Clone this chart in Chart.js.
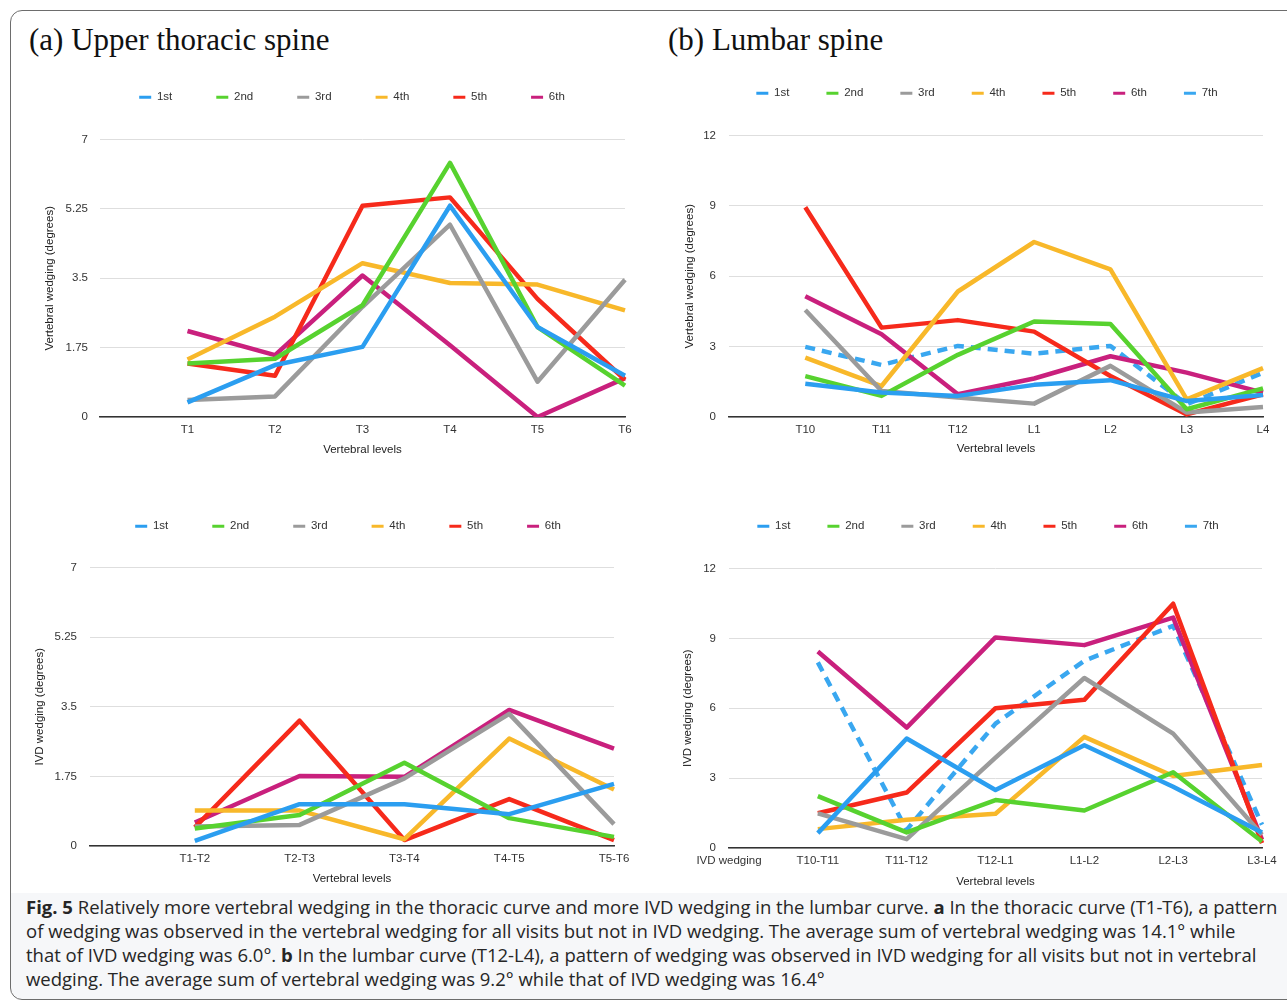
<!DOCTYPE html>
<html>
<head>
<meta charset="utf-8">
<script src="https://cdn.jsdelivr.net/npm/chart.js@4.4.1/dist/chart.umd.min.js"></script>
<style>
  html, body { margin: 0; padding: 0; background: #fff; }
  body { width: 1287px; height: 1008px; position: relative; overflow: hidden; }
  .frame { position: absolute; left: 10px; top: 10px; width: 1300px; height: 990px;
           border: 1.5px solid #6d6d6d; border-radius: 12px; box-sizing: border-box; }
  .panel-title { position: absolute; top: 24px; font-family: "Liberation Serif", serif;
                 font-size: 31px; line-height: 31px; color: #111; white-space: nowrap; }
  .caption { position: absolute; left: 11px; top: 893px; width: 1290px; height: 106px;
             background: #f6f7f9; border-bottom-left-radius: 11px; }
  .caption div { position: absolute; left: 15px; white-space: nowrap; font-family: "Open Sans", "Noto Sans", sans-serif;
                 color: #262626; }
  canvas { position: absolute; }
</style>
</head>
<body>
<div class="caption" id="caption"></div>
<div class="frame"></div>
<div class="panel-title" style="left:29px">(a) Upper thoracic spine</div>
<div class="panel-title" style="left:668px">(b) Lumbar spine</div>
<canvas id="c1" style="left:0px;top:60px;width:640px;height:410px" width="640" height="410"></canvas>
<canvas id="c2" style="left:640px;top:60px;width:647px;height:410px" width="647" height="410"></canvas>
<canvas id="c3" style="left:0px;top:490px;width:640px;height:410px" width="640" height="410"></canvas>
<canvas id="c4" style="left:640px;top:490px;width:647px;height:410px" width="647" height="410"></canvas>
<script>
// categories
const thoracicLevels = ['', 'T1', 'T2', 'T3', 'T4', 'T5', 'T6'];
const lumbarLevels = ['', 'T10', 'T11', 'T12', 'L1', 'L2', 'L3', 'L4'];
const thoracicIvdLevels = ['', 'T1-T2', 'T2-T3', 'T3-T4', 'T4-T5', 'T5-T6'];
const lumbarIvdLevels = ['IVD wedging', 'T10-T11', 'T11-T12', 'T12-L1', 'L1-L2', 'L2-L3', 'L3-L4'];
const visits = ['1st', '2nd', '3rd', '4th', '5th', '6th', '7th'];

// tick labels
const thoracicTicks = [0, 1.75, 3.5, 5.25, 7];
const lumbarTicks = [0, 3, 6, 9, 12];

// (a) upper thoracic, vertebral wedging
const tvFirst = [null, 0.37, 1.31, 1.77, 5.33, 2.27, 1.04];
const tvSecond = [null, 1.35, 1.47, 2.82, 6.41, 2.27, 0.79];
const tvThird = [null, 0.43, 0.52, 2.78, 4.85, 0.89, 3.46];
const tvFourth = [null, 1.45, 2.53, 3.88, 3.38, 3.34, 2.69];
const tvFifth = [null, 1.35, 1.04, 5.33, 5.54, 2.98, 0.94];
const tvSixth = [null, 2.17, 1.56, 3.57, 1.81, 0, 0.98];

// (b) lumbar, vertebral wedging
const lvFirst = [null, 1.42, 1.04, 0.9, 1.37, 1.57, 0.68, 0.94];
const lvSecond = [null, 1.74, 0.9, 2.65, 4.07, 3.96, 0.33, 1.22];
const lvThird = [null, 4.56, 1.11, 0.83, 0.57, 2.18, 0.19, 0.43];
const lvFourth = [null, 2.53, 1.32, 5.35, 7.46, 6.29, 0.75, 2.08];
const lvFifth = [null, 8.94, 3.81, 4.13, 3.64, 1.75, 0.11, 0.97];
const lvSixth = [null, 5.15, 3.53, 0.97, 1.64, 2.59, 1.89, 1.04];
const lvSeventh = [null, 2.99, 2.22, 3.03, 2.7, 3.03, 0.54, 1.89];

// (a) upper thoracic, IVD wedging
const tiFirst = [null, 0.13, 1.05, 1.05, 0.8, 1.56];
const tiSecond = [null, 0.44, 0.78, 2.09, 0.7, 0.23];
const tiThird = [null, 0.49, 0.53, 1.7, 3.32, 0.55];
const tiFourth = [null, 0.89, 0.89, 0.17, 2.7, 1.42];
const tiFifth = [null, 0.47, 3.15, 0.15, 1.18, 0.15];
const tiSixth = [null, 0.59, 1.76, 1.74, 3.42, 2.45];

// (b) lumbar, IVD wedging
const liFirst = [null, 0.64, 4.7, 2.49, 4.41, 2.63, 0.67];
const liSecond = [null, 2.23, 0.67, 2.06, 1.61, 3.25, 0.28];
const liThird = [null, 1.49, 0.38, 3.88, 7.3, 4.91, 0.57];
const liFourth = [null, 0.81, 1.21, 1.47, 4.77, 3.09, 3.56];
const liFifth = [null, 1.49, 2.38, 6.0, 6.36, 10.49, 0.21];
const liSixth = [null, 8.44, 5.17, 9.04, 8.71, 9.89, 0.36];
const liSeventh = [null, 7.97, 0.78, 5.34, 8.04, 9.54, 1.0];

const colors = ['#2b9ef0', '#57d22f', '#9b9b9b', '#f8b82a', '#f62a1b', '#c9207d', '#39a7f0'];
const dashes = [[], [], [], [], [], [], [10, 7]];

const captionLines = [
    ['Fig. 5', '  Relatively more vertebral wedging in the thoracic curve and more IVD wedging in the lumbar curve. ', 'a', ' In the thoracic curve (T1-T6), a pattern'],
    ['', 'of wedging was observed in the vertebral wedging for all visits but not in IVD wedging. The average sum of vertebral wedging was 14.1° while'],
    ['', 'that of IVD wedging was 6.0°. ', 'b', ' In the lumbar curve (T12-L4), a pattern of wedging was observed in IVD wedging for all visits but not in vertebral'],
    ['', 'wedging. The average sum of vertebral wedging was 9.2° while that of IVD wedging was 16.4°']
];

Chart.defaults.font.family = '"Liberation Sans", Arial, sans-serif';
Chart.defaults.font.size = 11.5;
Chart.defaults.color = '#444';
Chart.defaults.animation = false;

// moves the legend row to a fixed spot inside the canvas
const placeLegend = {
    id: 'placeLegend',
    afterLayout(chart, args, opts) {
        const lg = chart.legend;
        const pad = lg.options.labels.padding;
        const dx = opts.cx - (lg.left + lg.right) / 2;
        const dy = opts.cy - (lg.top + pad + 5.5);
        lg.left += dx; lg.right += dx;
        lg.top += dy; lg.bottom += dy;
    }
};

function buildDatasets(series) {
    return series.map((data, i) => ({
        label: visits[i],
        data: data,
        borderColor: colors[i],
        backgroundColor: colors[i],
        borderWidth: 4.5,
        borderDash: dashes[i],
        pointRadius: 0,
        pointHoverRadius: 0,
        pointStyle: 'line',
        tension: 0,
        borderJoinStyle: 'round',
        spanGaps: false
    }));
}

function legendLabels(chart) {
    const items = Chart.defaults.plugins.legend.labels.generateLabels(chart);
    items.forEach(it => {
        it.lineWidth = 3;
        it.lineCap = 'butt';
        if (it.lineDash && it.lineDash.length) {
            it.lineDash = [3, 4];
            it.lineDashOffset = 0;
        }
    });
    return items;
}

function makeChart(id, labels, series, ticks, yTitle, lay) {
    new Chart(document.getElementById(id), {
        type: 'line',
        data: { labels: labels, datasets: buildDatasets(series) },
        plugins: [placeLegend],
        options: {
            responsive: false,
            layout: { padding: { left: 0, right: lay.padR, top: lay.padT, bottom: 0 } },
            plugins: {
                legend: {
                    position: 'top',
                    labels: { usePointStyle: true, pointStyleWidth: 12, padding: lay.legendPad, color: '#333',
                              font: { size: 11.5 }, generateLabels: legendLabels }
                },
                tooltip: { enabled: false },
                placeLegend: { cx: lay.cx, cy: lay.cy }
            },
            scales: {
                x: {
                    offset: false,
                    grid: { display: false, drawTicks: false },
                    border: { display: true, color: '#333', width: 1.5 },
                    ticks: { padding: 6, color: '#333', autoSkip: false, maxRotation: 0 },
                    title: { display: true, text: 'Vertebral levels', color: '#222', padding: { top: 0, bottom: lay.xTitlePad } },
                    afterFit: s => { s.height = lay.xH; }
                },
                y: {
                    min: 0,
                    max: ticks[ticks.length - 1],
                    afterBuildTicks: s => { s.ticks = ticks.map(v => ({ value: v })); },
                    grid: { color: '#dedede', lineWidth: 1, drawTicks: false },
                    border: { display: false },
                    ticks: { padding: lay.yTickPad, color: '#333', callback: v => String(v) },
                    title: { display: true, text: yTitle, color: '#222', padding: { top: lay.yTitlePad, bottom: 0 } },
                    afterFit: s => { s.width = lay.yW; }
                }
            }
        }
    });
}

makeChart('c1', thoracicLevels, [tvFirst, tvSecond, tvThird, tvFourth, tvFifth, tvSixth], thoracicTicks,
    'Vertebral wedging (degrees)',
    { padR: 15, padT: 14, legendPad: 44, cx: 352, cy: 37, xH: 53, xTitlePad: 13, yW: 100, yTickPad: 12, yTitlePad: 43 });

makeChart('c2', lumbarLevels, [lvFirst, lvSecond, lvThird, lvFourth, lvFifth, lvSixth, lvSeventh], lumbarTicks,
    'Vertebral wedging (degrees)',
    { padR: 24, padT: 17, legendPad: 37, cx: 347, cy: 33, xH: 53, xTitlePad: 14, yW: 89, yTickPad: 13, yTitlePad: 43 });

makeChart('c3', thoracicIvdLevels, [tiFirst, tiSecond, tiThird, tiFourth, tiFifth, tiSixth], thoracicTicks,
    'IVD wedging (degrees)',
    { padR: 26, padT: 12, legendPad: 44, cx: 348, cy: 36, xH: 54, xTitlePad: 14, yW: 90, yTickPad: 13, yTitlePad: 33 });

makeChart('c4', lumbarIvdLevels, [liFirst, liSecond, liThird, liFourth, liFifth, liSixth, liSeventh], lumbarTicks,
    'IVD wedging (degrees)',
    { padR: 25, padT: 20, legendPad: 37, cx: 348, cy: 36, xH: 52, xTitlePad: 11, yW: 89, yTickPad: 13, yTitlePad: 41 });

// caption, sized so the first line spans the same width as the figure's
const cap = document.getElementById('caption');
const lineEls = captionLines.map((parts, i) => {
    const el = document.createElement('div');
    el.style.top = (2 + i * 24) + 'px';
    el.style.fontSize = '17px';
    el.style.lineHeight = '24px';
    parts.forEach(p => {
        const s = document.createElement('span');
        s.textContent = p;
        if (p === 'Fig. 5' || p === 'a' || p === 'b') s.style.fontWeight = 'bold';
        el.appendChild(s);
    });
    cap.appendChild(el);
    return el;
});
const w0 = lineEls[0].getBoundingClientRect().width;
const fs = 17 * 1252 / w0;
lineEls.forEach(el => { el.style.fontSize = fs.toFixed(2) + 'px'; });
</script>
</body>
</html>
